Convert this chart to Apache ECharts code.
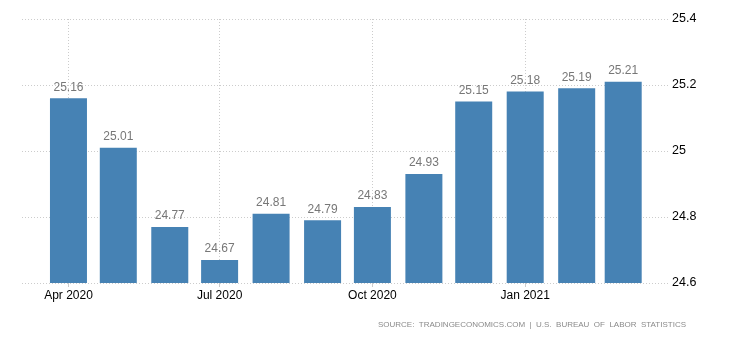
<!DOCTYPE html>
<html>
<head>
<meta charset="utf-8">
<script src="https://cdn.jsdelivr.net/npm/echarts@6/dist/echarts.min.js"></script>
<style>
  html, body { margin: 0; padding: 0; background: #fff; }
  #chart { width: 730px; height: 340px; }
</style>
</head>
<body>
<div id="chart"></div>
<script>
// Monthly observations (first day of each month)
const months = ['2020-04-01', '2020-05-01', '2020-06-01', '2020-07-01', '2020-08-01', '2020-09-01',
                '2020-10-01', '2020-11-01', '2020-12-01', '2021-01-01', '2021-02-01', '2021-03-01'];
const values = [25.16, 25.01, 24.77, 24.67, 24.81, 24.79, 24.83, 24.93, 25.15, 25.18, 25.19, 25.21];
// Quarterly ticks shown along the date axis
const tickDates = ['2020-04-01', '2020-07-01', '2020-10-01', '2021-01-01'];
const monthNames = ['Jan', 'Feb', 'Mar', 'Apr', 'May', 'Jun', 'Jul', 'Aug', 'Sep', 'Oct', 'Nov', 'Dec'];
const sourceText = 'SOURCE:  TRADINGECONOMICS.COM  |  U.S.  BUREAU  OF  LABOR  STATISTICS';

const DAY = 86400000;
const parse = echarts.time.parse;
const tickValues = tickDates.map(d => parse(d).getTime());

// Visible date range of the plot
const rangeMin = parse('2020-03-04').getTime();
const rangeMax = parse('2021-03-28').getTime();
// ECharts pads a bar series' base axis by half a bar on each side,
// so the bar axis range is pulled in by that amount (~11 days here).
const barPad = 11.16 * DAY;

const chart = echarts.init(document.getElementById('chart'));
const fontFamily = '"Liberation Sans", Arial, sans-serif';
const gridLine = { show: true, lineStyle: { color: '#cccccc', type: [1, 2], width: 1 } };

chart.setOption({
  animation: false,
  textStyle: { fontFamily: fontFamily },
  grid: { left: 22, right: 62, top: 19, bottom: 57 },
  xAxis: [{
    // axis carrying the bars (hidden)
    type: 'time',
    min: rangeMin + barPad,
    max: rangeMax - barPad,
    show: false
  }, {
    // axis drawing the quarterly ticks, labels and vertical grid lines
    type: 'value',
    position: 'bottom',
    min: rangeMin,
    max: rangeMax,
    axisLine: { show: false },
    axisTick: { show: true, length: 4, lineStyle: { color: '#cccccc' }, customValues: tickValues },
    splitLine: gridLine,
    axisLabel: {
      color: '#000',
      fontSize: 12,
      margin: 7,
      customValues: tickValues,
      formatter: function (v) {
        const d = new Date(v);
        return monthNames[d.getMonth()] + ' ' + d.getFullYear();
      }
    }
  }],
  yAxis: {
    type: 'value',
    position: 'right',
    min: 24.6,
    max: 25.4,
    interval: 0.2,
    axisLine: { show: false },
    axisTick: { show: false },
    splitLine: gridLine,
    axisLabel: { color: '#000', fontSize: 12.5, margin: 4 }
  },
  series: [{
    type: 'bar',
    xAxisIndex: 0,
    barWidth: 37,
    itemStyle: { color: '#4682b4' },
    label: {
      show: true,
      position: 'top',
      distance: 5,
      color: '#777777',
      fontSize: 12
    },
    data: months.map((m, i) => [m, values[i]])
  }],
  graphic: [{
    type: 'text',
    right: 44,
    top: 321,
    style: {
      text: sourceText,
      fill: '#8a8a8a',
      font: '8px ' + fontFamily
    }
  }]
});
</script>
</body>
</html>
